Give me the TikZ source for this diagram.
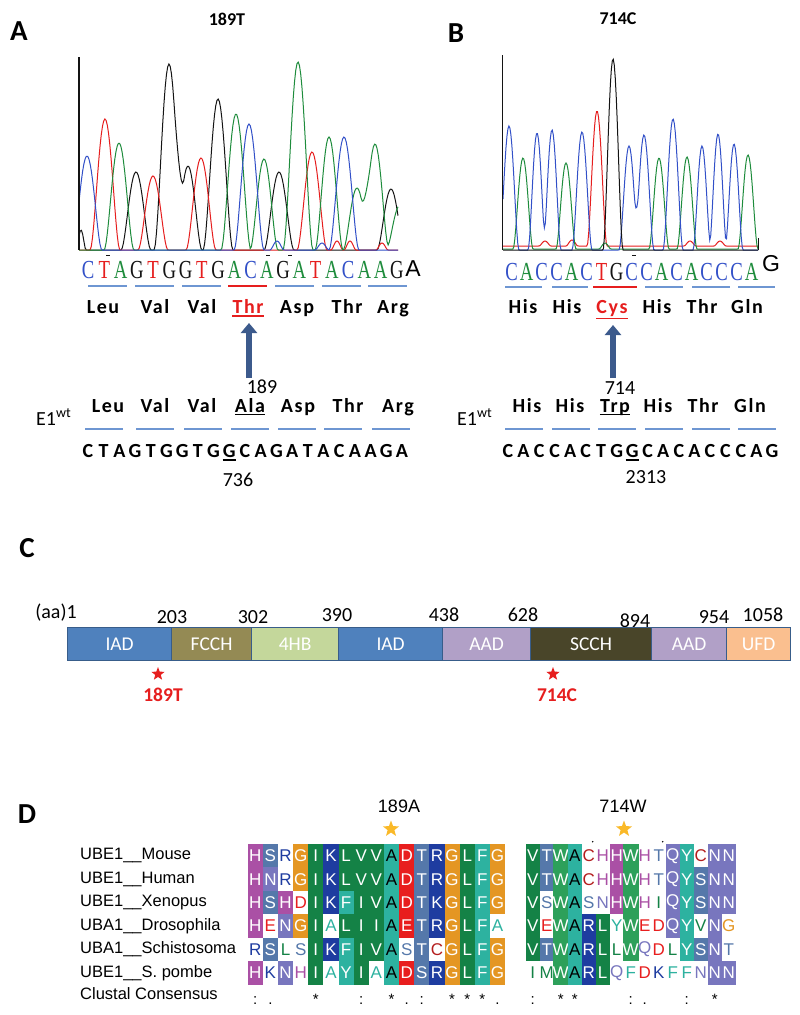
\documentclass[tikz,border=0pt]{standalone}
\usepackage{fontspec}
\setmainfont{Carlito}
\newfontfamily\traceserif{Liberation Serif}
\newfontfamily\alnsans{Liberation Sans}
\usetikzlibrary{arrows.meta,shapes.geometric}

\definecolor{trblue}{RGB}{50,80,200}
\definecolor{trred}{RGB}{230,30,30}
\definecolor{trgreen}{RGB}{30,140,60}
\definecolor{trblack}{RGB}{20,20,20}
\colorlet{bA}{trgreen}\colorlet{bC}{trblue}\colorlet{bT}{trred}\colorlet{bG}{trblack}
\definecolor{codon}{RGB}{110,150,210}
\definecolor{arrowblue}{RGB}{60,90,140}
\definecolor{mutred}{RGB}{230,30,30}
\definecolor{dIAD}{RGB}{79,129,189}
\definecolor{dFCCH}{RGB}{148,138,84}
\definecolor{dHB}{RGB}{196,215,155}
\definecolor{dAAD}{RGB}{177,160,199}
\definecolor{dSCCH}{RGB}{73,69,41}
\definecolor{dUFD}{RGB}{250,191,143}
\definecolor{dborder}{RGB}{56,93,138}
\definecolor{cMag}{RGB}{170,80,165}
\definecolor{cSteel}{RGB}{85,120,170}
\definecolor{cBlue}{RGB}{30,60,160}
\definecolor{cOrange}{RGB}{228,150,35}
\definecolor{cGreen}{RGB}{20,130,70}
\definecolor{cTeal}{RGB}{45,178,160}
\definecolor{cRed}{RGB}{232,30,30}
\definecolor{cLav}{RGB}{120,118,190}
\definecolor{cTrp}{RGB}{45,160,90}
\definecolor{cCys}{RGB}{180,30,30}
\definecolor{starGold}{RGB}{250,185,40}

% residue colours, upper case = shaded cell, lower case = coloured letter
\newcommand\aacol[3]{\colorlet{aa#1}{#3}\colorlet{aa#2}{#3}}
\aacol Aa{cTeal}\aacol Cc{cCys}\aacol Dd{cRed}\aacol Ee{cRed}\aacol Ff{cTeal}
\aacol Gg{cOrange}\aacol Hh{cMag}\aacol Ii{cGreen}\aacol Kk{cBlue}\aacol Ll{cGreen}
\aacol Mm{cGreen}\aacol Nn{cLav}\aacol Qq{cLav}\aacol Rr{cBlue}\aacol Ss{cSteel}
\aacol Tt{cSteel}\aacol Vv{cGreen}\aacol Ww{cTrp}\aacol Yy{cTeal}

\def\alnw{15.14pt}
\newcommand\alncell[3]{% #1 name, #2 position, #3 letter
  \edef\alnl{#3}%
  \expandafter\ifnum\expandafter`\alnl>96
    \node[aln,text=aa\alnl] (#1) at #2 {\MakeUppercase{\alnl}};
  \else
    \if A\alnl\def\alnfg{black}\else\def\alnfg{white}\fi
    \node[aln,fill=aa\alnl,text=\alnfg] (#1) at #2 {\alnl};
  \fi}

\begin{document}
\begin{tikzpicture}[x=1pt,y=-1pt,
 declare function={bump(\t,\c,\w)=(1-min(abs(\t-\c)/\w,1)^2)^2;},
 plabel/.style={font=\bfseries\fontsize{29}{30}\selectfont,inner sep=0pt},
 ptitle/.style={font=\bfseries\fontsize{18}{18}\selectfont,inner sep=0pt},
 trace/.style={line width=1pt},
 trbase/.style={font=\traceserif\fontsize{26}{26}\selectfont,inner sep=0pt,anchor=base},
 aa/.style={font=\bfseries\fontsize{20}{20}\selectfont\addfontfeature{LetterSpace=8},inner sep=0pt,anchor=base},
 nt/.style={font=\bfseries\fontsize{20}{20}\selectfont,inner sep=0pt,anchor=base},
 numlab/.style={font=\fontsize{20}{20}\selectfont,inner sep=0pt,anchor=base},
 codonline/.style={line width=1.6pt},
 mutarrow/.style={arrowblue,line width=6.5pt,-{Triangle[width=16pt,length=10pt]}},
 dombox/.style={draw=dborder,line width=1.2pt,minimum height=33pt,inner sep=0pt,anchor=west,text=white,font=\fontsize{19.5}{20}\selectfont},
 aanum/.style={font=\fontsize{20}{20}\selectfont,inner sep=0pt},
 redstar/.style={star,star points=5,star point ratio=2.4,fill=mutred,inner sep=0pt,minimum size=14pt},
 mutlab/.style={font=\bfseries\fontsize{19.5}{20}\selectfont,text=mutred,inner sep=0pt},
 seqlab/.style={font=\alnsans\fontsize{16.5}{17}\selectfont,inner sep=0pt,anchor=west},
 aln/.style={font=\alnsans\fontsize{17}{17}\selectfont,inner sep=0pt,minimum height=23.45pt,minimum width=\alnw},
 goldstar/.style={star,star points=5,star point ratio=2.4,fill=starGold,inner sep=0pt,minimum size=17pt},
 cons/.style={font=\alnsans\fontsize{15}{15}\selectfont,inner sep=0pt,anchor=base}]
\useasboundingbox (0,0) rectangle (800,1015);
\fill[white] (0,0) rectangle (800,1015);

% ---- A and B: traces
\node[plabel] (labA) at (19,31) {A};
\node[plabel] (labB) at (456,33) {B};
\node[ptitle] (titA) at (227,19) {189T};
\node[ptitle] (titB) at (618,19) {714C};
\draw[trace,trblack] plot[domain=79:398,samples=260] (\x,{250-20*bump(\x,81,5)-78*bump(\x,136,15)-186*bump(\x,169,15)-84*bump(\x,188,14)-151*bump(\x,218,15)-78*bump(\x,279,15)-61*bump(\x,391,14)});
\draw[trace,trred] plot[domain=79:398,samples=260] (\x,{250-131*bump(\x,105,15)-74*bump(\x,153,15)-92*bump(\x,201,15)-98*bump(\x,312,15)-9*bump(\x,337,6)-9*bump(\x,350,6)-7*bump(\x,382,6)});
\draw[trace,trgreen] plot[domain=79:398,samples=260] (\x,{250-107*bump(\x,119,15)-136*bump(\x,236,15)-91*bump(\x,264,14)-188*bump(\x,298,15)-113*bump(\x,329,14)-62*bump(\x,357,14)-106*bump(\x,375,14)-45*bump(\x,400,14)});
\draw[trace,trblue] plot[domain=79:398,samples=260] (\x,{250-94*bump(\x,87,15)-126*bump(\x,249,15)-113*bump(\x,344,15)-9*bump(\x,277,7)-7*bump(\x,322,7)});
\draw[trblack,line width=1.2pt] (79,57) -- (79,250);
\draw[trace,trred] plot[domain=503:758,samples=260] (\x,{246-135*bump(\x,597,10)-5*bump(\x,545,6)-6*bump(\x,572,6)-5*bump(\x,690,6)-5*bump(\x,720,6)});
\draw[trace,trgreen] plot[domain=503:758,samples=260] (\x,{249-91*bump(\x,523,10)-86*bump(\x,566,10)-91*bump(\x,659,10)-92*bump(\x,687,10)-94*bump(\x,748,10)-6*bump(\x,605,6)});
\draw[trace,trblue] plot[domain=503:758,samples=260] (\x,{250-124*bump(\x,509,10)-117*bump(\x,537,9)-120*bump(\x,552,9)-118*bump(\x,582,10)-104*bump(\x,629,10)-115*bump(\x,644,10)-131*bump(\x,673,10)-104*bump(\x,702,9)-116*bump(\x,718,9)-106*bump(\x,734,9)});
\draw[trace,trblack] plot[domain=503:758,samples=260] (\x,{250-191*bump(\x,613,10)});
\draw[trblack,line width=1.2pt] (502.7,55) -- (502.7,250);
\draw[trblack,line width=1pt] (758,238) -- (758,250);
\foreach \x in {108,268,290,634} \draw[trblack,line width=1pt] (\x-2,255) -- (\x+2,255);

% ---- A: called bases, codons, residues
\foreach \b [count=\i] in {C,T,A,G,T,G,G,T,G,A,C,A,G,A,T,A,C,A,A,G}
  \node[trbase,text=b\b] (ta\i) at ({88+(\i-1)*16.26},278.5) {\scalebox{0.72}[1]{\b}};
\node[font=\alnsans\fontsize{23}{23}\selectfont,inner sep=0pt,anchor=base] (taEnd) at (413,276) {A};
\foreach \s/\c in {88/codon,135/codon,182/codon,228/mutred,275/codon,322/codon,368/codon}
  \draw[codonline,\c] (\s,286) -- ++(39,0);
\foreach \t/\x/\c [count=\i] in {Leu/103/black,Val/155/black,Val/202/black,Thr/248/mutred,Asp/297/black,Thr/347/black,Arg/393/black}
  \node[aa,text=\c] (ra\i) at (\x,313.5) {\t};
\draw[mutred,line width=1.8pt] ([yshift=-2.5pt]ra4.base west) -- ([yshift=-2.5pt]ra4.base east);
\coordinate (arA0) at (249,378);
\coordinate (arA1) at (249,323);
\draw[mutarrow] (arA0) -- (arA1);
\node[numlab] (pA) at (262,393) {189};
\node[numlab,anchor=base west] (wtA) at (36,425) {E1\textsuperscript{wt}};
\foreach \t/\x [count=\i] in {Leu/108,Val/155,Val/202,Ala/250,Asp/298,Thr/348,Arg/398}
  \node[aa] (wa\i) at (\x,412) {\t};
\draw[line width=1.8pt] ([yshift=-2.5pt]wa4.base west) -- ([yshift=-2.5pt]wa4.base east);
\foreach \s in {85,136,184,231,278,324,372}
  \draw[codonline,codon] (\s,429) -- ++(38,0);
\foreach \b [count=\i] in {C,T,A,G,T,G,G,T,G,G,C,A,G,A,T,A,C,A,A,G,A}
  \node[nt] (na\i) at ({88+(\i-1)*15.7},457) {\b};
\draw[line width=1.8pt] ([yshift=-3pt]na10.base west) -- ([yshift=-3pt]na10.base east);
\node[numlab] (cA) at (238,486) {736};

% ---- B: called bases, codons, residues
\foreach \b [count=\i] in {C,A,C,C,A,C,T,G,C,C,A,C,A,C,C,C,A}
  \node[trbase,text=b\b] (tb\i) at ({511.7+(\i-1)*15},280) {\scalebox{0.72}[1]{\b}};
\node[font=\alnsans\fontsize{23}{23}\selectfont,inner sep=0pt,anchor=base] (tbEnd) at (771,271) {G};
\foreach \s/\e/\c in {505/542/codon,552/588/codon,593/637/mutred,645/683/codon,692/730/codon,738/775/codon}
  \draw[codonline,\c] (\s,287) -- (\e,287);
\foreach \t/\x/\c [count=\i] in {His/523/black,His/567/black,Cys/612/mutred,His/657/black,Thr/702/black,Gln/747/black}
  \node[aa,text=\c] (rb\i) at (\x,313.5) {\t};
\draw[mutred,line width=1.8pt] ([yshift=-5pt]rb3.base west) -- ([yshift=-5pt]rb3.base east);
\coordinate (arB0) at (613,378);
\coordinate (arB1) at (613,325);
\draw[mutarrow] (arB0) -- (arB1);
\node[numlab] (pB) at (620,394) {714};
\node[numlab,anchor=base west] (wtB) at (457,425) {E1\textsuperscript{wt}};
\foreach \t/\x [count=\i] in {His/527,His/570,Trp/615,His/658,Thr/703,Gln/750}
  \node[aa] (wb\i) at (\x,412) {\t};
\draw[line width=1.8pt] ([yshift=-2.5pt]wb3.base west) -- ([yshift=-2.5pt]wb3.base east);
\foreach \s in {505,552,598,645,692,738}
  \draw[codonline,codon] (\s,429) -- ++(38,0);
\foreach \b [count=\i] in {C,A,C,C,A,C,T,G,G,C,A,C,A,C,C,C,A,G}
  \node[nt] (nb\i) at ({508+(\i-1)*15.53},457) {\b};
\draw[line width=1.8pt] ([yshift=-3pt]nb9.base west) -- ([yshift=-3pt]nb9.base east);
\node[numlab] (cB) at (646,483) {2313};

% ---- C: domain map
\node[plabel] (labC) at (27,548) {C};
\foreach \x/\y/\t [count=\i] in {56/613/{(aa)1},172/617/203,253/617/302,337/615/390,444/615/438,523/615/628,635/621/894,714/617/954,763/615/1058}
  \node[aanum] (num\i) at (\x,\y) {\t};
\foreach \a/\b/\c/\t [count=\i] in {67/171/dIAD/IAD,171/251/dFCCH/FCCH,251/338/dHB/4HB,338/442/dIAD/IAD,442/530/dAAD/AAD,530/651/dSCCH/SCCH,651/726/dAAD/AAD,726/790/dUFD/UFD}{
  \pgfmathsetmacro\dw{\b-\a}
  \node[dombox,fill=\c,minimum width=\dw pt] (dom\i) at (\a,644) {\t};}
\node[redstar] (st189) at (158,674) {};
\node[mutlab] (m189) at (163,695) {189T};
\node[redstar] (st714) at (553,674) {};
\node[mutlab] (m714) at (557,695) {714C};

% ---- D: alignment
\node[plabel] (labD) at (27,814) {D};
\node[font=\alnsans\fontsize{18}{18}\selectfont,inner sep=0pt] (s189) at (399,806) {189A};
\node[goldstar] (g189) at (391,829) {};
\node[font=\alnsans\fontsize{18}{18}\selectfont,inner sep=0pt] (s714) at (623,806) {714W};
\node[goldstar] (g714) at (624,829) {};
\foreach \n [count=\r] in {UBE1\_\_Mouse,UBE1\_\_Human,UBE1\_\_Xenopus,UBA1\_\_Drosophila,UBA1\_\_Schistosoma,UBE1\_\_S. pombe}
  \node[seqlab] (sp\r) at (80,{844+(\r-0.5)*23.45}) {\n};
\node[seqlab] (spc) at (80,994) {Clustal Consensus};
\foreach \row [count=\r] in {{H,S,r,G,I,K,L,V,V,A,D,T,R,G,L,F,G},{H,N,r,G,I,K,L,V,V,A,D,T,R,G,L,F,G},{H,S,H,d,I,K,F,I,V,A,D,T,K,G,L,F,G},{H,e,N,G,I,a,L,I,I,A,E,T,R,G,L,F,a},{r,S,l,s,I,K,F,I,V,A,s,T,c,G,L,F,G},{H,k,N,h,I,a,Y,I,a,A,D,S,R,G,L,F,G}}
  \foreach \a [count=\i] in \row
    \alncell{p-\r-\i}{({247.7+(\i-0.5)*15.14},{844+(\r-0.5)*23.45})}{\a};
\def\alnw{14pt}
\foreach \row [count=\r] in {{V,T,W,A,c,h,H,W,h,t,Q,Y,c,N,N},{V,T,W,A,c,h,H,W,h,t,Q,Y,S,N,N},{V,s,W,A,s,n,H,W,h,i,Q,Y,S,N,N},{V,e,W,A,R,L,y,W,e,d,Q,Y,v,N,g},{V,T,W,A,R,L,l,W,q,d,l,Y,S,N,t},{i,m,W,A,R,L,q,f,d,k,f,f,n,N,N}}
  \foreach \a [count=\i] in \row
    \alncell{q-\r-\i}{({525.7+(\i-0.5)*14},{844+(\r-0.5)*23.45})}{\a};
\foreach \i/\m in {1/:,2/.,5/*,8/:,10/*,11/.,12/:,14/*,15/*,16/*,17/.}
  \node[cons] (k\i) at ({247.7+(\i-0.5)*15.14},1004) {\m};
\foreach \i/\m in {1/:,3/*,4/*,8/:,9/.,12/:,14/*}
  \node[cons] (l\i) at ({525.7+(\i-0.5)*14},1004) {\m};
\fill (592.7,841.7) circle (0.8);
\fill (662.7,841.7) circle (0.8);
\end{tikzpicture}
\end{document}
